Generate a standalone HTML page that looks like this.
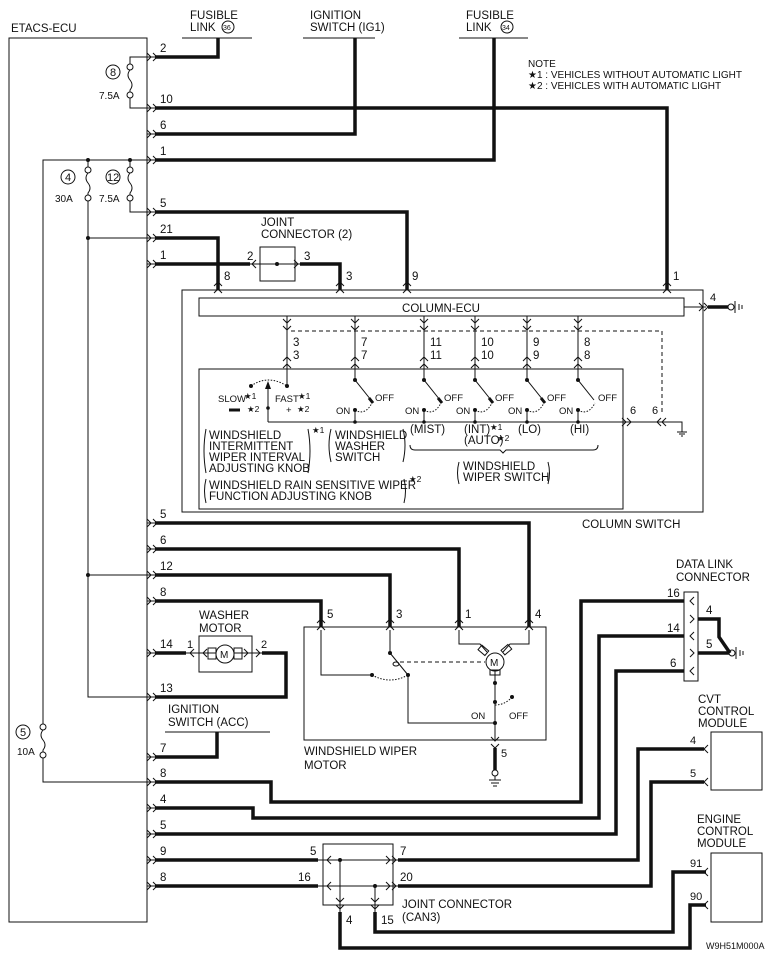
<!DOCTYPE html>
<html><head><meta charset="utf-8"><style>
html,body{margin:0;padding:0;background:#fff}
svg{display:block}
text{font-family:"Liberation Sans",sans-serif;font-size:11.5px;fill:#111}
.n{font-family:"Liberation Sans Narrow","Liberation Sans",sans-serif;font-size:11px}
.s{font-size:10px}
.x{font-size:9.5px}
.w{stroke:#111;stroke-width:3.5;fill:none;stroke-linejoin:miter}
.t{stroke:#111;stroke-width:1;fill:none}
.d{stroke:#111;stroke-width:1;fill:none;stroke-dasharray:4,3}
.o{stroke:#111;stroke-width:1;fill:none;stroke-dasharray:1.5,1.5}
</style></head><body>
<svg width="776" height="961" viewBox="0 0 776 961" xmlns="http://www.w3.org/2000/svg">
<defs>
<path id="pr" d="M147,-4 L151,0 L147,4 M153,-4 L157,0 L153,4 M147,0 L157,0" stroke="#111" fill="none" stroke-width="1"/>
<path id="up" d="M-4,4 L0,0 L4,4 M-4,11 L0,7 L4,11" stroke="#111" fill="none" stroke-width="1"/>
<path id="dn" d="M-4,-4 L0,0 L4,-4 M-4,3 L0,7 L4,3" stroke="#111" fill="none" stroke-width="1"/>
<path id="lt" d="M4,-4 L0,0 L4,4" stroke="#111" fill="none" stroke-width="1"/>
<path id="rt" d="M-4,-4 L0,0 L-4,4" stroke="#111" fill="none" stroke-width="1"/>
</defs>

<!-- ECU -->
<text x="11" y="32">ETACS-ECU</text>
<rect x="9" y="38" width="138" height="884" class="t"/>
<use href="#pr" y="57"/><use href="#pr" y="108"/><use href="#pr" y="134"/><use href="#pr" y="160"/>
<use href="#pr" y="212"/><use href="#pr" y="238"/><use href="#pr" y="264"/>
<use href="#pr" y="523"/><use href="#pr" y="549"/><use href="#pr" y="575"/><use href="#pr" y="601"/>
<use href="#pr" y="653"/><use href="#pr" y="697"/><use href="#pr" y="757"/><use href="#pr" y="782"/>
<use href="#pr" y="808"/><use href="#pr" y="834"/><use href="#pr" y="860"/><use href="#pr" y="886"/>
<g class="n">
<text x="160" y="52">2</text><text x="160" y="103">10</text><text x="160" y="129">6</text><text x="160" y="155">1</text>
<text x="160" y="207">5</text><text x="160" y="233">21</text><text x="160" y="259">1</text>
<text x="160" y="518">5</text><text x="160" y="544">6</text><text x="160" y="570">12</text><text x="160" y="596">8</text>
<text x="160" y="648">14</text><text x="160" y="692">13</text><text x="160" y="752">7</text><text x="160" y="777">8</text>
<text x="160" y="803">4</text><text x="160" y="829">5</text><text x="160" y="855">9</text><text x="160" y="881">8</text>
</g>

<!-- fuses -->
<path class="t" d="M147,57 H130 V64 M130,70 q-4,5 0,10 q4,5 0,10 V92 M130,98 V108 H147"/>
<circle cx="130" cy="67" r="3" class="t"/><circle cx="130" cy="95" r="3" class="t"/>
<circle cx="113" cy="72" r="7" class="t"/><text x="110" y="76" class="n">8</text><text x="99" y="99" class="n s">7.5A</text>
<path class="t" d="M43,724 V160 H147 M130,160 V167 M130,173 q-4,5 0,10 q4,5 0,10 V195 M130,201 V212 H147 M88,160 V167 M88,173 q-4,5 0,10 q4,5 0,10 V195 M88,201 V697 H147 M88,238 H147 M88,575 H147"/>
<circle cx="130" cy="170" r="3" class="t"/><circle cx="130" cy="198" r="3" class="t"/>
<circle cx="88" cy="170" r="3" class="t"/><circle cx="88" cy="198" r="3" class="t"/>
<circle cx="88" cy="160" r="2" fill="#111"/><circle cx="130" cy="160" r="2" fill="#111"/>
<circle cx="88" cy="238" r="2" fill="#111"/><circle cx="88" cy="575" r="2" fill="#111"/>
<circle cx="68" cy="177" r="7" class="t"/><text x="65" y="181" class="n">4</text><text x="55" y="202" class="n s">30A</text>
<circle cx="113" cy="177" r="7" class="t"/><text x="107" y="181" class="n">12</text><text x="99" y="202" class="n s">7.5A</text>
<path class="t" d="M43,730 q-4,5 0,10 q4,5 0,10 V752 M43,758 V782 H147"/>
<circle cx="43" cy="727" r="3" class="t"/><circle cx="43" cy="755" r="3" class="t"/>
<circle cx="23" cy="732" r="7" class="t"/><text x="20" y="736" class="n">5</text><text x="17" y="755" class="n s">10A</text>

<!-- top sources -->
<text x="190" y="19">FUSIBLE</text><text x="190" y="31">LINK</text><circle cx="228" cy="27" r="6" class="t"/><text x="223" y="30" style="font-size:7px">36</text>
<path class="t" d="M182,38 H252" stroke-width="1.5"/>
<path class="w" d="M155,57 H218 V38"/>
<text x="310" y="19">IGNITION</text><text x="310" y="31">SWITCH (IG1)</text>
<path class="t" d="M303,38 H375" stroke-width="1.5"/>
<path class="w" d="M155,134 H355 V38"/>
<text x="466" y="19">FUSIBLE</text><text x="466" y="31">LINK</text><circle cx="507" cy="27" r="6" class="t"/><text x="502" y="30" style="font-size:7px">34</text>
<path class="t" d="M459,38 H528" stroke-width="1.5"/>
<path class="w" d="M155,160 H494 V38"/>
<path class="w" d="M155,108 H667 V290"/>
<path class="w" d="M155,212 H407 V290"/>
<path class="w" d="M155,238 H218 V290"/>
<path class="w" d="M155,264 H250"/>
<path class="w" d="M300,264 H340 V290"/>
<rect x="260" y="247" width="35" height="34" class="t"/>
<path class="t" d="M250,264 H300"/><circle cx="277" cy="264" r="2" fill="#111"/>
<use href="#lt" x="252" y="264"/><use href="#rt" x="298" y="264"/>
<text x="261" y="226">JOINT</text><text x="261" y="238">CONNECTOR (2)</text>
<g class="n"><text x="247" y="260">2</text><text x="304" y="260">3</text><text x="224" y="280">8</text><text x="346" y="280">3</text><text x="412" y="280">9</text><text x="673" y="280">1</text></g>
<use href="#up" x="218" y="282"/><use href="#up" x="340" y="282"/><use href="#up" x="407" y="282"/><use href="#up" x="667" y="282"/>

<text x="528" y="67" class="s">NOTE</text>
<text x="528" y="78" class="s">★1 : VEHICLES WITHOUT AUTOMATIC LIGHT</text>
<text x="528" y="89" class="s">★2 : VEHICLES WITH AUTOMATIC LIGHT</text>

<!-- column switch -->
<rect x="182" y="290" width="521" height="222" class="t"/>
<rect x="199" y="298" width="485" height="18" class="t"/>
<text x="441" y="312" text-anchor="middle">COLUMN-ECU</text>
<path class="t" d="M684,307 H706"/><use href="#rt" x="703" y="307"/><use href="#rt" x="708" y="307"/>
<path class="w" d="M708,307 H728"/><circle cx="731" cy="307" r="3" class="t"/>
<path class="t" d="M735,301 V313 M739,304 V310 M742,305 V309"/>
<text x="710" y="301" class="n">4</text>
<path class="t" d="M287,316 V386 M355,316 V380 M424,316 V380 M475,316 V380 M527,316 V380 M578,316 V380"/>
<use href="#dn" x="287" y="323"/><use href="#dn" x="355" y="323"/><use href="#dn" x="424" y="323"/><use href="#dn" x="475" y="323"/><use href="#dn" x="527" y="323"/><use href="#dn" x="578" y="323"/>
<use href="#up" x="287" y="357"/><use href="#up" x="355" y="357"/><use href="#up" x="424" y="357"/><use href="#up" x="475" y="357"/><use href="#up" x="527" y="357"/><use href="#up" x="578" y="357"/>
<path class="d" d="M291,331 H662 V414"/>
<g class="n">
<text x="293" y="346">3</text><text x="293" y="359">3</text>
<text x="361" y="346">7</text><text x="361" y="359">7</text>
<text x="430" y="346">11</text><text x="430" y="359">11</text>
<text x="481" y="346">10</text><text x="481" y="359">10</text>
<text x="533" y="346">9</text><text x="533" y="359">9</text>
<text x="584" y="346">8</text><text x="584" y="359">8</text>
</g>
<rect x="199" y="369" width="424" height="140" class="t"/>
<path class="t" d="M268,422 H660 M660,422 H682 V432 M677,432 H687 M679,434 H685 M681,436 H683"/>
<use href="#rt" x="626" y="422"/><use href="#rt" x="631" y="422"/><use href="#lt" x="657" y="422"/><use href="#lt" x="662" y="422"/>
<text x="630" y="414" class="n">6</text><text x="652" y="414" class="n">6</text>
<path class="o" d="M251,386 Q268,374 287,386"/>
<circle cx="251" cy="386" r="2" fill="#111"/><circle cx="287" cy="386" r="2" fill="#111"/>
<path class="t" d="M268,422 V386"/><path d="M265,389 L268,381 L271,389 Z" fill="#111"/>
<circle cx="268" cy="408" r="1.8" fill="#111"/>
<text x="218" y="402" class="n x">SLOW</text><text x="244" y="399" style="font-size:8.5px">★1</text>
<text x="247" y="412" style="font-size:8.5px">★2</text><path d="M229,410 H240" stroke="#111" stroke-width="3"/>
<text x="275" y="402" class="n x">FAST</text><text x="298" y="399" style="font-size:8.5px">★1</text>
<text x="286" y="413" class="x">+</text><text x="297" y="412" style="font-size:8.5px">★2</text>
<g>
<g transform="translate(355,0)"><circle cx="0" cy="380" r="2" fill="#111"/><path class="t" d="M0,380 L16,400"/><path d="M14,398 L18,403" stroke="#111" stroke-width="3"/><path class="o" d="M0,410 Q10,416 17,403"/><circle cx="0" cy="410" r="2" fill="#111"/><path class="t" d="M0,410 V422"/><circle cx="0" cy="422" r="1.8" fill="#111"/><text x="20" y="401" class="n x">OFF</text><text x="-19" y="414" class="n x">ON</text></g>
<g transform="translate(424,0)"><circle cx="0" cy="380" r="2" fill="#111"/><path class="t" d="M0,380 L16,400"/><path d="M14,398 L18,403" stroke="#111" stroke-width="3"/><path class="o" d="M0,410 Q10,416 17,403"/><circle cx="0" cy="410" r="2" fill="#111"/><path class="t" d="M0,410 V422"/><circle cx="0" cy="422" r="1.8" fill="#111"/><text x="20" y="401" class="n x">OFF</text><text x="-19" y="414" class="n x">ON</text></g>
<g transform="translate(475,0)"><circle cx="0" cy="380" r="2" fill="#111"/><path class="t" d="M0,380 L16,400"/><path d="M14,398 L18,403" stroke="#111" stroke-width="3"/><path class="o" d="M0,410 Q10,416 17,403"/><circle cx="0" cy="410" r="2" fill="#111"/><path class="t" d="M0,410 V422"/><circle cx="0" cy="422" r="1.8" fill="#111"/><text x="20" y="401" class="n x">OFF</text><text x="-19" y="414" class="n x">ON</text></g>
<g transform="translate(527,0)"><circle cx="0" cy="380" r="2" fill="#111"/><path class="t" d="M0,380 L16,400"/><path d="M14,398 L18,403" stroke="#111" stroke-width="3"/><path class="o" d="M0,410 Q10,416 17,403"/><circle cx="0" cy="410" r="2" fill="#111"/><path class="t" d="M0,410 V422"/><circle cx="0" cy="422" r="1.8" fill="#111"/><text x="20" y="401" class="n x">OFF</text><text x="-19" y="414" class="n x">ON</text></g>
<g transform="translate(578,0)"><circle cx="0" cy="380" r="2" fill="#111"/><path class="t" d="M0,380 L16,400"/><path class="o" d="M0,410 Q10,416 17,403"/><circle cx="0" cy="410" r="2" fill="#111"/><path class="t" d="M0,410 V422"/><circle cx="0" cy="422" r="1.8" fill="#111"/><text x="20" y="401" class="n x">OFF</text><text x="-19" y="414" class="n x">ON</text></g>
</g>
<g class="n x">
<text x="410" y="433">(MIST)</text><text x="464" y="433">(INT)</text><text x="490" y="430" style="font-size:8.5px">★1</text>
<text x="464" y="444">(AUTO)</text><text x="497" y="441" style="font-size:8.5px">★2</text><text x="518" y="433">(LO)</text><text x="570" y="433">(HI)</text>
</g>
<path class="t" d="M410,445 q0,5 5,5 H500 l3,3 l3,-3 H593 q5,0 5,-5"/>
<g class="x">
<text x="209" y="439">WINDSHIELD</text><text x="209" y="450">INTERMITTENT</text><text x="209" y="461">WIPER INTERVAL</text><text x="209" y="472">ADJUSTING KNOB</text>
<text x="312" y="433" style="font-size:8.5px">★1</text>
<text x="335" y="439">WINDSHIELD</text><text x="335" y="450">WASHER</text><text x="335" y="461">SWITCH</text>
<text x="463" y="470">WINDSHIELD</text><text x="463" y="481">WIPER SWITCH</text>
<text x="209" y="489">WINDSHIELD RAIN SENSITIVE WIPER</text><text x="209" y="500">FUNCTION ADJUSTING KNOB</text>
<text x="409" y="482" style="font-size:8.5px">★2</text>
</g>
<path class="t" d="M206,429 q-4,22 0,44 M308,429 q4,22 0,44 M331,429 q-4,16 0,33 M403,429 q4,16 0,33 M459,462 q-3,11 0,22 M548,462 q3,11 0,22 M206,479 q-3,12 0,24 M404,479 q3,12 0,24"/>
<text x="582" y="528">COLUMN SWITCH</text>

<!-- wiper motor -->
<path class="w" d="M155,523 H529 V627"/>
<path class="w" d="M155,549 H459 V627"/>
<path class="w" d="M155,575 H390 V627"/>
<path class="w" d="M155,601 H321 V627"/>
<use href="#up" x="321" y="619"/><use href="#up" x="390" y="619"/><use href="#up" x="459" y="619"/><use href="#up" x="529" y="619"/>
<g class="n"><text x="327" y="618">5</text><text x="396" y="618">3</text><text x="465" y="618">1</text><text x="535" y="618">4</text></g>
<rect x="304" y="627" width="242" height="113" class="t"/>
<path class="t" d="M321,630 V675 H372 M390,630 V652 M408,675 V723 H495 M459,630 V644 H480 L487,652 M529,630 V644 H510 L503,652 M495,670 V740"/>
<circle cx="390" cy="653" r="2" fill="#111"/><path class="t" d="M390,653 L408,675"/><circle cx="372" cy="675" r="2" fill="#111"/><circle cx="408" cy="675" r="2" fill="#111"/>
<ellipse cx="396" cy="664" rx="3" ry="2" class="t"/>
<path class="o" d="M372,675 Q390,685 408,675"/>
<path class="d" d="M400,662 H485"/>
<circle cx="495" cy="662" r="9" class="t" fill="#fff"/><text x="490" y="666" class="s">M</text>
<rect x="490" y="670" width="10" height="5" class="t"/>
<rect x="479" y="647" width="9" height="6" class="t" transform="rotate(40 483 650)"/><rect x="502" y="647" width="9" height="6" class="t" transform="rotate(-40 506 650)"/>
<circle cx="495" cy="683" r="2" fill="#111"/><circle cx="495" cy="702" r="2" fill="#111"/><circle cx="495" cy="723" r="2" fill="#111"/>
<circle cx="512" cy="697" r="2" fill="#111"/><path class="o" d="M495,705 Q505,705 512,697"/>
<text x="471" y="719" class="n x">ON</text><text x="509" y="719" class="n x">OFF</text>
<use href="#dn" x="495" y="741"/>
<text x="501" y="757" class="n">5</text>
<path class="w" d="M495,748 V770"/>
<circle cx="495" cy="773" r="3" class="t"/><path class="t" d="M495,776 V780 M489,780 H501 M491,783 H499 M493,786 H497"/>
<text x="304" y="755">WINDSHIELD WIPER</text><text x="304" y="769">MOTOR</text>

<!-- washer motor -->
<text x="199" y="619">WASHER</text><text x="199" y="632">MOTOR</text>
<path class="w" d="M155,653 H186"/>
<rect x="199" y="636" width="53" height="36" class="t"/>
<path class="t" d="M186,653 H216 M234,653 H262"/>
<rect x="208" y="648" width="8" height="11" class="t"/><rect x="234" y="648" width="8" height="11" class="t"/>
<circle cx="225" cy="654" r="9" class="t"/><text x="220" y="658" class="s">M</text>
<use href="#lt" x="190" y="653"/><use href="#lt" x="203" y="653"/><use href="#rt" x="248" y="653"/><use href="#rt" x="260" y="653"/>
<text x="187" y="648" class="n">1</text><text x="261" y="648" class="n">2</text>
<path class="w" d="M262,653 H286 V697 H155"/>
<text x="168" y="713">IGNITION</text><text x="168" y="726">SWITCH (ACC)</text>
<path class="t" d="M165,732 H270" stroke-width="1.5"/>
<path class="w" d="M155,757 H217 V732"/>

<!-- lower right -->
<path class="w" d="M155,782 H271 V802 H581 V601 H684"/>
<path class="w" d="M155,808 H253 V818 H599 V636 H684"/>
<path class="w" d="M155,834 H616 V671 H684"/>
<text x="676" y="568">DATA LINK</text><text x="676" y="581">CONNECTOR</text>
<rect x="684" y="592" width="14" height="89" class="t"/>
<use href="#lt" x="690" y="601"/><use href="#rt" x="694" y="619"/><use href="#lt" x="690" y="636"/><use href="#rt" x="694" y="653"/><use href="#lt" x="690" y="671"/>
<g class="n"><text x="667" y="597">16</text><text x="667" y="632">14</text><text x="670" y="667">6</text><text x="706" y="614">4</text><text x="706" y="648">5</text></g>
<path class="w" d="M698,619 H719 V637 L730,653 M698,653 H729"/>
<circle cx="732" cy="653" r="3" class="t"/><path class="t" d="M736,647 V659 M740,650 V656 M743,651 V655"/>

<text x="698" y="703">CVT</text><text x="698" y="715">CONTROL</text><text x="698" y="727">MODULE</text>
<rect x="711" y="732" width="51" height="58" class="t"/>
<use href="#lt" x="704" y="749"/><use href="#lt" x="704" y="782"/>
<text x="690" y="744" class="n">4</text><text x="690" y="777" class="n">5</text>
<path class="w" d="M398,860 H638 V749 H704"/>
<path class="w" d="M398,886 H651 V782 H704"/>

<path class="w" d="M155,860 H318 M155,886 H318"/>
<rect x="323" y="844" width="70" height="61" class="t"/>
<path class="t" d="M318,860 H398 M318,886 H398 M340,860 V912 M375,886 V912"/>
<circle cx="340" cy="860" r="2" fill="#111"/><circle cx="375" cy="886" r="2" fill="#111"/>
<use href="#lt" x="327" y="860"/><use href="#lt" x="327" y="886"/><use href="#rt" x="390" y="860"/><use href="#rt" x="390" y="886"/><use href="#rt" x="396" y="860"/><use href="#rt" x="396" y="886"/>
<use href="#dn" x="340" y="902"/><use href="#dn" x="375" y="902"/>
<g class="n"><text x="310" y="855">5</text><text x="298" y="881">16</text><text x="400" y="855">7</text><text x="400" y="881">20</text><text x="346" y="924">4</text><text x="381" y="924">15</text></g>
<text x="402" y="908">JOINT CONNECTOR</text><text x="402" y="921">(CAN3)</text>
<path class="w" d="M340,912 V948 H690 V905 H706"/>
<path class="w" d="M375,912 V932 H673 V872 H706"/>
<text x="697" y="823">ENGINE</text><text x="697" y="835">CONTROL</text><text x="697" y="847">MODULE</text>
<rect x="711" y="853" width="51" height="69" class="t"/>
<use href="#lt" x="704" y="872"/><use href="#lt" x="704" y="905"/>
<text x="690" y="867" class="n">91</text><text x="690" y="900" class="n">90</text>
<text x="706" y="949" class="n" style="font-size:9px">W9H51M000A</text>
</svg>
</body></html>
